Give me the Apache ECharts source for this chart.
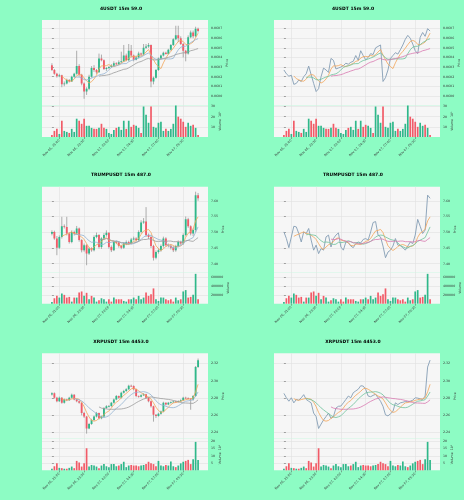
<!DOCTYPE html>
<html>
<head>
<meta charset="utf-8">
<script src="https://cdn.jsdelivr.net/npm/echarts@6.0.0/dist/echarts.min.js"></script>
<style>
  html, body { margin: 0; padding: 0; background: #8dfcc4; }
  #chart { width: 464px; height: 500px; }
</style>
</head>
<body>
<div id="chart"></div>
<script>
  // x ticks (candle index) and their labels, shared by all panels
  const tickIdx = [3, 13, 23, 33, 43, 53];
  const tickLabels = ['Nov 06, 21:00', 'Nov 06, 23:30', 'Nov 07, 02:00', 'Nov 07, 04:30', 'Nov 07, 07:00', 'Nov 07, 09:30'];

  // ---- 4USDT ----
  const fourOpen = [0.06032,0.06027,0.06023,0.060205,0.060215,0.06012,0.06013,0.060165,0.06015,0.0602,
    0.06023,0.06031,0.06022,0.06013,0.060045,0.060075,0.0602,0.06029,0.06027,0.060245,
    0.06039,0.06037,0.06028,0.06029,0.0603,0.060315,0.06034,0.06033,0.06035,0.06036,
    0.06042,0.06037,0.06047,0.06042,0.060375,0.0604,0.06044,0.06043,0.0605,0.060515,
    0.06053,0.06015,0.06019,0.06027,0.06039,0.06042,0.06045,0.060435,0.06048,0.06053,
    0.06059,0.06063,0.0606,0.06054,0.06047,0.06044,0.06061,0.06066,0.06062,0.0607];
  const fourClose = [0.06027,0.06023,0.060205,0.060215,0.06012,0.06013,0.060165,0.06015,0.0602,0.06023,
    0.06031,0.06022,0.06013,0.060045,0.060075,0.0602,0.06029,0.06027,0.060245,0.06039,
    0.06037,0.06028,0.06029,0.0603,0.060315,0.06034,0.06033,0.06035,0.06036,0.06042,
    0.06037,0.06047,0.06042,0.060375,0.0604,0.06044,0.06043,0.0605,0.060515,0.06053,
    0.06015,0.06019,0.06027,0.06039,0.06042,0.06045,0.060435,0.06048,0.06053,0.06059,
    0.06063,0.0606,0.06054,0.06047,0.06044,0.06061,0.06066,0.06062,0.0607,0.060675];
  const fourLow = [0.06026,0.06022,0.06019,0.060195,0.06009,0.0601,0.06012,0.06014,0.060145,0.06019,
    0.06022,0.0602,0.06011,0.05997,0.06001,0.06006,0.06019,0.06025,0.06023,0.06024,
    0.06036,0.06027,0.06026,0.06028,0.06029,0.0603,0.06032,0.06032,0.06034,0.06035,
    0.06036,0.06036,0.0604,0.06036,0.06037,0.06039,0.06041,0.06042,0.06049,0.0605,
    0.06009,0.06012,0.06018,0.06026,0.06038,0.06041,0.06043,0.06043,0.06047,0.06052,
    0.06058,0.06056,0.06053,0.0604,0.06036,0.06043,0.0606,0.0606,0.06061,0.06066];
  const fourHigh = [0.06034,0.06028,0.06024,0.06023,0.06022,0.06015,0.06018,0.060175,0.06021,0.06024,
    0.06047,0.06033,0.06023,0.06014,0.06009,0.06022,0.06031,0.06032,0.06028,0.06044,
    0.06043,0.06038,0.0603,0.06031,0.06033,0.06036,0.06035,0.06037,0.06046,0.06053,
    0.06044,0.06054,0.06053,0.06043,0.06042,0.06046,0.06045,0.06054,0.06054,0.06055,
    0.060535,0.0602,0.06028,0.0604,0.06043,0.06046,0.06046,0.06049,0.06054,0.0606,
    0.06073,0.06073,0.06062,0.06055,0.06048,0.06063,0.06068,0.06068,0.06072,0.06071];
  const fourVol = [2,6,8,3,16,6,5,4,8,5, 18,16,13,18,11,11,9,8,8,9,
    13,9,8,4,3,7,9,10,7,16, 8,16,10,12,11,9,4,30,22,14,
    30,10,9,14,15,6,8,6,8,13, 31,20,18,15,10,14,11,12,9,2];
  const fourMa5 = [null,null,null,null,
    0.060208,0.06018,0.060167,0.060156,0.060153,0.060175,0.060211,0.060222,0.060218,0.060187,
    0.060156,0.060134,0.060148,0.060176,0.060216,0.060279,0.060313,0.060311,0.060315,0.060326,
    0.060311,0.060305,0.060315,0.060327,0.060339,0.06036,0.060366,0.060394,0.060408,0.060411,
    0.060407,0.060421,0.060413,0.060429,0.060457,0.060483,0.060425,0.060377,0.060331,0.060306,
    0.060284,0.060344,0.060393,0.060435,0.060463,0.060497,0.060533,0.060566,0.060578,0.060566,
    0.060536,0.060532,0.060544,0.06056,0.060606,0.060653];
  const fourMa10 = [null,null,null,null,null,null,null,null,null,
    0.060192,0.060196,0.060195,0.060187,0.06017,0.060166,0.060173,0.060185,0.060197,0.060202,
    0.060218,0.060224,0.06023,0.060246,0.060271,0.060295,0.060309,0.060313,0.060321,0.060333,
    0.060336,0.060336,0.060355,0.060368,0.060375,0.060384,0.060394,0.060404,0.060419,0.060435,
    0.060446,0.060424,0.060396,0.060381,0.060382,0.060384,0.060385,0.060386,0.060384,0.060385,
    0.060391,0.060439,0.06048,0.060507,0.060515,0.060517,0.060533,0.060555,0.060569,0.060586,
    0.060595];
  const fourMa20 = [null,null,null,null,null,null,null,null,null,null,null,null,null,null,null,null,null,null,null,
    0.060205,0.06021,0.060212,0.060216,0.060221,0.06023,0.060241,0.060249,0.060259,0.060267,
    0.060277,0.06028,0.060292,0.060307,0.060323,0.060339,0.060351,0.060358,0.06037,0.060383,
    0.06039,0.060379,0.060375,0.060374,0.060378,0.060383,0.060389,0.060394,0.060401,0.060409,
    0.060418,0.060431,0.060437,0.060443,0.060448,0.06045,0.060458,0.06047,0.060476,0.060484,
    0.060493];
  const fourPriceTicks = [0.0600,0.0601,0.0602,0.0603,0.0604,0.0605,0.0606,0.0607];
  const fourVolTicks = [10,20,30];

  // ---- TRUMPUSDT ----
  const trumpOpen = [7.495,7.501,7.480,7.451,7.485,7.519,7.517,7.496,7.469,7.501,
    7.496,7.512,7.475,7.443,7.459,7.432,7.448,7.443,7.485,7.491,
    7.453,7.480,7.491,7.498,7.453,7.443,7.469,7.467,7.456,7.451,
    7.464,7.469,7.466,7.477,7.480,7.475,7.501,7.531,7.534,7.491,
    7.485,7.456,7.419,7.437,7.443,7.456,7.480,7.459,7.457,7.451,
    7.443,7.456,7.469,7.464,7.491,7.541,7.519,7.496,7.507,7.618];
  const trumpClose = [7.501,7.480,7.451,7.485,7.519,7.517,7.496,7.469,7.501,7.496,
    7.512,7.475,7.443,7.459,7.432,7.448,7.443,7.485,7.491,7.453,
    7.480,7.491,7.498,7.453,7.443,7.469,7.467,7.456,7.451,7.464,
    7.469,7.466,7.477,7.480,7.475,7.501,7.531,7.534,7.491,7.485,
    7.456,7.419,7.437,7.443,7.456,7.480,7.459,7.457,7.451,7.443,
    7.456,7.469,7.464,7.491,7.541,7.519,7.496,7.507,7.618,7.608];
  const trumpHigh = [7.506,7.505,7.488,7.490,7.549,7.525,7.549,7.500,7.506,7.505,
    7.520,7.515,7.478,7.464,7.462,7.452,7.452,7.490,7.499,7.494,
    7.484,7.497,7.506,7.500,7.458,7.474,7.473,7.470,7.460,7.468,
    7.474,7.473,7.482,7.486,7.484,7.506,7.538,7.545,7.580,7.496,
    7.490,7.460,7.442,7.449,7.461,7.486,7.484,7.464,7.462,7.456,
    7.460,7.474,7.473,7.496,7.550,7.546,7.522,7.512,7.629,7.625];
  const trumpLow = [7.490,7.476,7.427,7.447,7.480,7.512,7.490,7.464,7.465,7.490,
    7.492,7.470,7.436,7.438,7.395,7.428,7.438,7.439,7.481,7.448,
    7.447,7.475,7.486,7.448,7.437,7.440,7.462,7.451,7.446,7.447,
    7.459,7.461,7.462,7.474,7.470,7.471,7.496,7.527,7.485,7.478,
    7.450,7.410,7.414,7.432,7.438,7.451,7.454,7.452,7.445,7.437,
    7.438,7.452,7.459,7.460,7.487,7.514,7.490,7.488,7.500,7.600];
  const trumpVol = [38000,123000,177000,138000,231000,200000,138000,154000,46000,138000,
    138000,254000,277000,177000,246000,100000,177000,138000,46000,77000,
    123000,100000,46000,100000,46000,138000,100000,100000,100000,62000,
    46000,100000,100000,138000,100000,177000,100000,138000,254000,177000,
    215000,346000,100000,62000,138000,138000,100000,77000,100000,46000,
    138000,77000,100000,277000,308000,138000,154000,200000,677000,100000];
  const trumpMa5 = [null,null,null,null,
    7.487,7.491,7.494,7.498,7.501,7.496,7.495,7.490,7.485,7.477,
    7.464,7.451,7.445,7.453,7.460,7.464,7.470,7.480,7.482,7.475,
    7.473,7.471,7.466,7.458,7.457,7.462,7.462,7.461,7.465,7.471,
    7.473,7.480,7.493,7.504,7.506,7.509,7.499,7.477,7.457,7.448,
    7.442,7.447,7.455,7.459,7.461,7.458,7.453,7.455,7.456,7.464,
    7.484,7.497,7.502,7.510,7.536,7.549];
  const trumpMa10 = [null,null,null,null,null,null,null,null,null,
    7.492,7.493,7.492,7.491,7.489,7.480,7.473,7.468,7.469,7.468,
    7.464,7.461,7.462,7.468,7.467,7.468,7.470,7.473,7.470,7.466,
    7.467,7.466,7.464,7.462,7.464,7.467,7.471,7.477,7.485,7.489,
    7.491,7.490,7.485,7.481,7.477,7.475,7.473,7.466,7.458,7.454,
    7.450,7.450,7.455,7.458,7.463,7.471,7.475,7.479,7.483,7.500,
    7.517];
  const trumpMa20 = [null,null,null,null,null,null,null,null,null,null,null,null,null,null,null,null,null,null,null,
    7.478,7.477,7.477,7.480,7.478,7.474,7.472,7.470,7.470,7.467,
    7.466,7.463,7.463,7.465,7.466,7.468,7.471,7.475,7.477,7.477,
    7.479,7.478,7.474,7.471,7.471,7.471,7.472,7.471,7.472,7.472,
    7.470,7.470,7.470,7.469,7.470,7.473,7.474,7.472,7.471,7.477,
    7.483];
  const trumpPriceTicks = [7.40,7.45,7.50,7.55,7.60];
  const trumpVolTicks = [200000,400000,600000];

  // ---- XRPUSDT ----
  const xrpOpen = [2.2843,2.2855,2.2804,2.2764,2.2804,2.2745,2.2784,2.2776,2.2804,2.2840,
    2.2784,2.2764,2.2745,2.2626,2.2586,2.2448,2.2499,2.2547,2.2586,2.2626,
    2.2566,2.2586,2.2685,2.2705,2.2708,2.2745,2.2784,2.2824,2.2804,2.2863,
    2.2883,2.2903,2.2943,2.2940,2.2903,2.2824,2.2816,2.2832,2.2844,2.2804,
    2.2764,2.2705,2.2606,2.2594,2.2618,2.2646,2.2745,2.2725,2.2745,2.2752,
    2.2760,2.2758,2.2764,2.2776,2.2804,2.2800,2.2792,2.2784,2.2824,2.3160];
  const xrpClose = [2.2855,2.2804,2.2764,2.2804,2.2745,2.2784,2.2776,2.2804,2.2840,2.2784,
    2.2764,2.2745,2.2626,2.2586,2.2448,2.2499,2.2547,2.2586,2.2626,2.2566,
    2.2586,2.2685,2.2705,2.2708,2.2745,2.2784,2.2824,2.2804,2.2863,2.2883,
    2.2903,2.2943,2.2940,2.2903,2.2824,2.2816,2.2832,2.2844,2.2804,2.2764,
    2.2705,2.2606,2.2594,2.2618,2.2646,2.2745,2.2725,2.2745,2.2752,2.2760,
    2.2758,2.2764,2.2776,2.2804,2.2800,2.2792,2.2784,2.2824,2.3160,2.3240];
  const xrpHigh = [2.2868,2.2866,2.2815,2.2818,2.2812,2.2795,2.2792,2.2815,2.2852,2.2846,
    2.2790,2.2772,2.2752,2.2640,2.2592,2.2512,2.2560,2.2598,2.2640,2.2632,
    2.2598,2.2695,2.2718,2.2720,2.2756,2.2795,2.2836,2.2830,2.2874,2.2896,
    2.2915,2.2955,2.2956,2.2948,2.2910,2.2830,2.2845,2.2858,2.2850,2.2810,
    2.2772,2.2712,2.2615,2.2630,2.2655,2.2758,2.2750,2.2756,2.2762,2.2770,
    2.2770,2.2774,2.2786,2.2815,2.2816,2.2808,2.2800,2.2836,2.3172,2.3259];
  const xrpLow = [2.2830,2.2795,2.2752,2.2755,2.2735,2.2736,2.2765,2.2768,2.2795,2.2775,
    2.2752,2.2735,2.2600,2.2570,2.2388,2.2440,2.2490,2.2535,2.2576,2.2552,
    2.2555,2.2578,2.2675,2.2692,2.2698,2.2736,2.2776,2.2792,2.2795,2.2852,
    2.2872,2.2892,2.2928,2.2890,2.2810,2.2805,2.2808,2.2824,2.2795,2.2752,
    2.2690,2.2527,2.2570,2.2585,2.2608,2.2636,2.2715,2.2718,2.2735,2.2742,
    2.2748,2.2750,2.2755,2.2768,2.2790,2.2785,2.2665,2.2770,2.2815,2.3150];
  const xrpVol = [1.1,2.8,4.8,1.7,1.5,1.1,1.1,1.7,2.6,1.5,
    6.5,5.4,2.6,4.8,15.2,2.6,3.7,3.3,2.6,1.5,
    3.3,4.3,2.8,2.2,4.3,4.3,2.8,3.3,4.3,5.9,
    2.2,3.3,3.7,3.3,3.3,2.8,3.3,3.7,4.3,5.9,
    4.8,4.3,2.8,6.5,3.3,2.8,3.7,3.3,6.1,2.8,
    2.2,3.3,4.8,5.9,6.5,7.2,4.3,7.6,19.6,7.2];
  const xrpMa5 = [null,null,null,null,
    2.2794,2.2780,2.2775,2.2783,2.2790,2.2798,2.2794,2.2787,2.2752,2.2701,
    2.2634,2.2581,2.2541,2.2533,2.2541,2.2565,2.2582,2.2610,2.2634,2.2650,
    2.2685,2.2725,2.2752,2.2772,2.2804,2.2832,2.2855,2.2879,2.2907,2.2915,
    2.2903,2.2885,2.2863,2.2844,2.2824,2.2812,2.2790,2.2745,2.2695,2.2657,
    2.2634,2.2642,2.2665,2.2695,2.2722,2.2745,2.2749,2.2756,2.2763,2.2773,
    2.2782,2.2788,2.2792,2.2802,2.2873,2.2960];
  const xrpMa10 = [null,null,null,null,null,null,null,null,null,
    2.2796,2.2787,2.2781,2.2767,2.2745,2.2716,2.2687,2.2664,2.2642,2.2621,
    2.2599,2.2581,2.2575,2.2583,2.2595,2.2625,2.2653,2.2681,2.2703,2.2727,
    2.2758,2.2790,2.2816,2.2840,2.2859,2.2867,2.2870,2.2871,2.2875,2.2869,
    2.2857,2.2838,2.2804,2.2769,2.2741,2.2723,2.2716,2.2705,2.2695,2.2690,
    2.2689,2.2695,2.2711,2.2729,2.2748,2.2764,2.2768,2.2774,2.2782,2.2823,
    2.2871];
  const xrpMa20 = [null,null,null,null,null,null,null,null,null,null,null,null,null,null,null,null,null,null,null,
    2.2698,2.2684,2.2678,2.2675,2.2670,2.2670,2.2670,2.2673,2.2673,2.2674,
    2.2679,2.2686,2.2696,2.2711,2.2727,2.2746,2.2762,2.2776,2.2789,2.2798,
    2.2808,2.2814,2.2810,2.2804,2.2800,2.2795,2.2793,2.2788,2.2785,2.2780,
    2.2773,2.2766,2.2757,2.2749,2.2744,2.2743,2.2742,2.2740,2.2739,2.2756,
    2.2780];
  const xrpPriceTicks = [2.24,2.26,2.28,2.30,2.32];
  const xrpVolTicks = [5,10,15,20];

  // 样式
  const font = 'DejaVu Sans';
  const upColor = '#2fb88a';
  const downColor = '#f15b68';
  const wickColor = '#8c8c8c';
  const panelBg = '#f6f6f6';
  const gridColor = '#e0e0e0';
  const labelColor = '#333';

  const panels = [
    { title: '4USDT 15m 59.0', open: fourOpen, close: fourClose, low: fourLow, high: fourHigh, vol: fourVol,
      ma5: fourMa5, ma10: fourMa10, ma20: fourMa20, priceMin: 0.0599, priceMax: 0.06079, priceTicks: fourPriceTicks,
      digits: 4, volMax: 31, volTicks: fourVolTicks, volName: 'Volume  10⁶' },
    { title: 'TRUMPUSDT 15m 487.0', open: trumpOpen, close: trumpClose, low: trumpLow, high: trumpHigh, vol: trumpVol,
      ma5: trumpMa5, ma10: trumpMa10, ma20: trumpMa20, priceMin: 7.373, priceMax: 7.645, priceTicks: trumpPriceTicks,
      digits: 2, volMax: 715000, volTicks: trumpVolTicks, volName: 'Volume' },
    { title: 'XRPUSDT 15m 4453.0', open: xrpOpen, close: xrpClose, low: xrpLow, high: xrpHigh, vol: xrpVol,
      ma5: xrpMa5, ma10: xrpMa10, ma20: xrpMa20, priceMin: 2.2328, priceMax: 2.3319, priceTicks: xrpPriceTicks,
      digits: 2, volMax: 21.7, volTicks: xrpVolTicks, volName: 'Volume  10⁵' },
  ];

  // 蜡烛图: 灰色影线 + 彩色实体
  function renderCandle(params, api) {
    const i = api.value(0);
    const o = api.value(1);
    const c = api.value(2);
    const pO = api.coord([i, o]);
    const pC = api.coord([i, c]);
    const pL = api.coord([i, api.value(3)]);
    const pH = api.coord([i, api.value(4)]);
    const w = api.size([1, 0])[0] * 0.75;
    return {
      type: 'group',
      children: [
        { type: 'line', shape: { x1: pH[0], y1: pH[1], x2: pL[0], y2: pL[1] }, style: { stroke: wickColor, lineWidth: 0.7 } },
        {
          type: 'rect',
          shape: { x: pO[0] - w / 2, y: Math.min(pO[1], pC[1]), width: w, height: Math.max(Math.abs(pO[1] - pC[1]), 0.7) },
          style: { fill: c >= o ? upColor : downColor },
        },
      ],
    };
  }

  function toPoints(arr) {
    return arr.map((v, i) => [i, v]).filter((d) => d[1] != null);
  }

  function lineSeries(g, arr, color, width) {
    return {
      type: 'line', xAxisIndex: g, yAxisIndex: g, data: toPoints(arr), showSymbol: false, symbol: 'none',
      lineStyle: { color: color, width: width }, silent: true, z: 3,
    };
  }

  function xAxisCfg(g, withLabels) {
    return {
      gridIndex: g, type: 'value', min: -4, max: 63,
      axisLine: { show: false },
      axisTick: { show: withLabels, length: 2, customValues: tickIdx, lineStyle: { color: '#555', width: 0.5 } },
      axisLabel: {
        show: withLabels, customValues: tickIdx, rotate: 45, fontSize: 3.2, margin: 3,
        color: labelColor, fontFamily: font,
        formatter: (v) => tickLabels[tickIdx.indexOf(v)] || '',
      },
      splitLine: { show: true, lineStyle: { color: gridColor, width: 0.6 } },
    };
  }

  function yAxisCfg(g, min, max, ticks, fmt, name) {
    return {
      gridIndex: g, type: 'value', position: 'right', min: min, max: max,
      axisLine: { show: false },
      axisTick: { show: true, length: 2, customValues: ticks, lineStyle: { color: '#555', width: 0.5 } },
      axisLabel: { customValues: ticks, fontSize: 3.2, margin: 3, color: labelColor, fontFamily: font, formatter: fmt },
      splitLine: { show: true, lineStyle: { color: gridColor, width: 0.6 } },
      name: name, nameLocation: 'middle', nameGap: 11, nameRotate: 90,
      nameTextStyle: { fontSize: 3.2, color: labelColor, fontFamily: font },
    };
  }

  const option = {
    backgroundColor: '#8dfcc4',
    animation: false,
    title: [],
    grid: [],
    xAxis: [],
    yAxis: [],
    series: [],
  };

  const rowH = 500 / 3;
  panels.forEach((p, r) => {
    [0, 1].forEach((col) => {
      const y0 = r * rowH;
      const left = col === 0 ? 42 : 274;
      const g = option.grid.length;

      option.title.push({
        text: p.title, left: col === 0 ? 116 : 348, top: y0 + 1, textAlign: 'center',
        textStyle: { fontSize: 4.5, fontWeight: 'bold', color: '#000', fontFamily: font },
      });

      // 价格面板 + 成交量面板
      option.grid.push({ left: left, top: y0 + 20, width: 166, height: 85.5, show: true, backgroundColor: panelBg, borderWidth: 0, outerBoundsMode: 'none' });
      option.grid.push({ left: left, top: y0 + 105.5, width: 166, height: 31.5, show: true, backgroundColor: panelBg, borderWidth: 0, outerBoundsMode: 'none' });

      option.xAxis.push(xAxisCfg(g, false));
      option.xAxis.push(xAxisCfg(g + 1, true));
      option.yAxis.push(yAxisCfg(g, p.priceMin, p.priceMax, p.priceTicks, (v) => v.toFixed(p.digits), 'Price'));
      option.yAxis.push(yAxisCfg(g + 1, 0, p.volMax, p.volTicks, (v) => String(v), p.volName));

      if (col === 0) {
        option.series.push({
          type: 'custom', xAxisIndex: g, yAxisIndex: g, clip: true,
          data: p.open.map((o, i) => [i, o, p.close[i], p.low[i], p.high[i]]),
          encode: { x: 0, y: [1, 2, 3, 4] },
          renderItem: renderCandle, z: 2,
        });
        option.series.push(lineSeries(g, p.ma5, '#f2a458', 0.8));
        option.series.push(lineSeries(g, p.ma10, '#93b3d2', 0.8));
        option.series.push(lineSeries(g, p.ma20, '#9c9c9c', 0.8));
      } else {
        option.series.push(lineSeries(g, p.close, '#849db4', 0.9));
        option.series.push(lineSeries(g, p.ma5, '#f2a458', 0.8));
        option.series.push(lineSeries(g, p.ma10, '#6cc29a', 0.8));
        option.series.push(lineSeries(g, p.ma20, '#d878b0', 0.8));
      }

      // 成交量
      option.series.push({
        type: 'bar', xAxisIndex: g + 1, yAxisIndex: g + 1, barWidth: 1.7, silent: true,
        data: p.vol.map((v, i) => ({
          value: [i, v],
          itemStyle: { color: p.close[i] >= p.open[i] ? upColor : downColor },
        })),
      });
    });
  });

  const myChart = echarts.init(document.getElementById('chart'), null, { renderer: 'canvas' });
  myChart.setOption(option);
</script>
</body>
</html>
